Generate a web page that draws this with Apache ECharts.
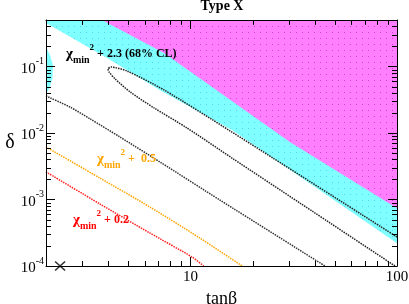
<!DOCTYPE html>
<html><head><meta charset="utf-8">
<script src="https://cdn.jsdelivr.net/npm/echarts@6/dist/echarts.min.js"></script>
<style>html,body{margin:0;padding:0;background:#fff}
#wrap{position:relative;width:409px;height:304px}
#c,#t{position:absolute;left:0;top:0;width:409px;height:304px}
#t{pointer-events:none}</style>
</head><body><div id="wrap"><div id="c"></div><div id="t"></div></div>
<script>
// ---------- data ----------
const titleText = 'Type X';
const xName = 'tanβ';
const yName = 'δ';
const xRange = [2, 100];
const yRange = [1e-4, 0.5];
const xMajorTicks = [10, 100];
const xMinorTicks = [3, 4, 5, 6, 7, 8, 9, 20, 30, 40, 50, 60, 70, 80, 90];
const yMajorTicks = [1e-4, 1e-3, 1e-2, 1e-1];
const yMinorTicks = [2e-4, 3e-4, 4e-4, 5e-4, 6e-4, 7e-4, 8e-4, 9e-4,
                     2e-3, 3e-3, 4e-3, 5e-3, 6e-3, 7e-3, 8e-3, 9e-3,
                     2e-2, 3e-2, 4e-2, 5e-2, 6e-2, 7e-2, 8e-2, 9e-2,
                     0.2, 0.3, 0.4];

// magenta excluded region (boundary + top-right corner)
const magentaTanb  = [3.73, 7.45, 30.3, 100, 100];
const magentaDelta = [0.5, 0.16, 7.3e-3, 7.4e-4, 0.5];
// cyan band (lower edge + top corners)
const cyanTanb  = [2, 3.95, 7.1, 15.9, 100, 100, 2];
const cyanDelta = [0.45, 0.134, 0.0444, 0.0111, 2.2e-4, 0.5, 0.5];
// small cyan patch on the left edge
const cyanLeftTanb  = [2, 2.09, 2.16, 2.15, 2.08, 2];
const cyanLeftDelta = [0.196, 0.149, 0.105, 0.0671, 0.0475, 0.0385];
// chi2_min + 2.3 (68% CL) contour
const cl68Tanb  = [100, 25.1, 15.6, 7.45, 4.93, 4.13, 3.99, 4.04, 4.32, 5.11, 6.67, 9.63, 15.9, 33.9, 97.8];
const cl68Delta = [2.73e-4, 4.2e-3, 0.0107, 0.0444, 0.0855, 0.098, 0.0916, 0.0826, 0.0649, 0.0414, 0.0238, 0.0119, 4.2e-3, 8.85e-4, 1e-4];
// outer black contour
const outerTanb  = [2, 2.61, 3.27, 4.56, 7.13, 13.9, 44.8];
const outerDelta = [0.036, 0.0246, 0.0163, 8.7e-3, 3.66e-3, 9.8e-4, 1e-4];
// chi2_min + 0.5
const orangeTanb  = [2, 3.65, 6.37, 11.1, 17.8];
const orangeDelta = [6.15e-3, 2.1e-3, 7.7e-4, 2.64e-4, 1e-4];
// chi2_min + 0.2
const redTanb  = [2, 3.65, 6.37, 10.2, 11.6];
const redDelta = [2.6e-3, 8.55e-4, 3.13e-4, 1.36e-4, 1e-4];
// best fit point
const bestFitTanb  = [2.34];
const bestFitDelta = [1e-4];

const labels = [
  {tag: '2.3 (68% CL)', color: '#000'},
  {tag: ' 0.5', color: '#FFA500'},
  {tag: '0.2', color: '#FF0000'}
];

// ---------- helpers ----------
const L = Math.log10;
const FONT = 'Liberation Serif';
const GRID = {left: 46, right: 12, top: 20, bottom: 38, containLabel: false, outerBoundsMode: 'none'};
function pts(xs, ys) { return xs.map((x, i) => [L(x), L(ys[i])]); }

function dotPattern(bg, dot) {
  const c = document.createElement('canvas');
  c.width = 6; c.height = 6;
  const g = c.getContext('2d');
  g.fillStyle = bg; g.fillRect(0, 0, 6, 6);
  g.fillStyle = dot; g.fillRect(2, 2, 1, 1);
  return {image: c, repeat: 'repeat'};
}

function polygonSeries(xs, ys, fill, z) {
  const d = pts(xs, ys);
  return {
    type: 'custom', z: z, silent: true, clip: true,
    data: d,
    renderItem: function (params, api) {
      if (params.dataIndex !== 0) return;
      const poly = d.map(p => api.coord(p));
      return {type: 'polygon', shape: {points: poly}, style: {fill: fill, stroke: null, lineWidth: 0}};
    }
  };
}
function lineSeries(xs, ys, color, z) {
  return {
    type: 'line', data: pts(xs, ys), symbol: 'none', showSymbol: false, smooth: 0.25,
    silent: true, z: z,
    lineStyle: {color: color, width: 1.5, type: [1.5, 1]}
  };
}
// inward tick marks: one thin filled rectangle per tick value, placed through the axes' scales
function tickSeries(values, dir, side, len) {
  const yl0 = L(yRange[0]), yl1 = L(yRange[1]);
  const xl0 = L(xRange[0]), xl1 = L(xRange[1]);
  const d = values.map(v => dir === 'x' ? [L(v), side === 'bottom' ? yl0 : yl1]
                                        : [side === 'left' ? xl0 : xl1, L(v)]);
  return {
    type: 'custom', z: 11, silent: true, clip: true,
    data: d,
    renderItem: function (params, api) {
      const p = api.coord(d[params.dataIndex]);
      let r;
      if (dir === 'x') {
        const x = Math.round(p[0]);
        r = side === 'bottom' ? {x: x, y: p[1] - len, width: 1, height: len}
                              : {x: x, y: p[1], width: 1, height: len};
      } else {
        const y = Math.round(p[1]);
        r = side === 'left' ? {x: p[0], y: y, width: len, height: 1}
                            : {x: p[0] - len, y: y, width: len, height: 1};
      }
      return {type: 'rect', shape: r, style: {fill: '#000'}};
    }
  };
}

function chiLabel(tag, color, x, y) {
  return {
    type: 'text', left: x, top: y, z: 20, silent: true,
    style: {
      text: '{c|χ}{m|min}{s|2}{t| + ' + tag + '}',
      fill: color,
      rich: {
        c: {fontFamily: FONT, fontSize: 15, fontWeight: 'bold', fill: color, lineHeight: 22, verticalAlign: 'middle'},
        m: {fontFamily: FONT, fontSize: 10, fontWeight: 'bold', fill: color, lineHeight: 10, verticalAlign: 'bottom'},
        s: {fontFamily: FONT, fontSize: 9, fontWeight: 'bold', fill: color, lineHeight: 10, verticalAlign: 'top'},
        t: {fontFamily: FONT, fontSize: 12, fontWeight: 'bold', fill: color, lineHeight: 22, verticalAlign: 'middle'}
      }
    }
  };
}

const baseAxis = {
  type: 'value', z: 10,
  axisLine: {show: true, lineStyle: {color: '#000', width: 1}},
  axisTick: {show: false},
  splitLine: {show: false}
};

// ---------- main chart ----------
const chart = echarts.init(document.getElementById('c'), null, {renderer: 'canvas'});
chart.setOption({
  animation: false,
  backgroundColor: '#fff',
  title: {
    text: titleText, left: 222, top: -1, textAlign: 'center', padding: 0,
    textStyle: {fontFamily: FONT, fontSize: 14, fontWeight: 'bold', color: '#000'}
  },
  grid: GRID,
  xAxis: [
    Object.assign({}, baseAxis, {
      position: 'bottom', min: L(xRange[0]), max: L(xRange[1]),
      axisLabel: {show: true, customValues: xMajorTicks.map(L), margin: 4,
        formatter: v => String(Math.round(Math.pow(10, v))), color: '#000', fontFamily: FONT, fontSize: 15},
      name: xName, nameLocation: 'middle', nameGap: 14,
      nameTextStyle: {fontFamily: FONT, fontSize: 18, color: '#000'}
    }),
    Object.assign({}, baseAxis, {position: 'top', min: L(xRange[0]), max: L(xRange[1]), axisLabel: {show: false}})
  ],
  yAxis: [
    Object.assign({}, baseAxis, {
      position: 'left', min: L(yRange[0]), max: L(yRange[1]),
      axisLabel: {show: true, customValues: yMajorTicks.map(L), margin: 2,
        formatter: v => '{b|10}{s|' + Math.round(v) + '}',
        rich: {
          b: {fontFamily: FONT, fontSize: 15, color: '#000', lineHeight: 20, verticalAlign: 'bottom'},
          s: {fontFamily: FONT, fontSize: 10, color: '#000', lineHeight: 11, verticalAlign: 'top'}
        }},
      name: yName, nameLocation: 'middle', nameGap: 31, nameRotate: 0,
      nameTextStyle: {fontFamily: FONT, fontSize: 20, color: '#000', padding: [6, 0, 0, 0]}
    }),
    Object.assign({}, baseAxis, {position: 'right', min: L(yRange[0]), max: L(yRange[1]), axisLabel: {show: false}})
  ],
  series: [
    polygonSeries(cyanTanb, cyanDelta, dotPattern('#7FFFFF', '#55D5EA'), 1),
    polygonSeries(cyanLeftTanb, cyanLeftDelta, '#7FFFFF', 1),
    polygonSeries(magentaTanb, magentaDelta, dotPattern('#FF7FFF', '#D040D0'), 2),
    lineSeries(cl68Tanb, cl68Delta, '#222', 5),
    lineSeries(outerTanb, outerDelta, '#333', 5),
    lineSeries(orangeTanb, orangeDelta, '#FFA500', 5),
    lineSeries(redTanb, redDelta, '#FF2020', 5),
    {
      type: 'scatter', data: pts(bestFitTanb, bestFitDelta), clip: false, z: 12, silent: true,
      symbol: 'path://M0 0L10 10M10 0L0 10', symbolSize: [10, 9],
      itemStyle: {color: 'none', borderColor: '#000', borderWidth: 1.5}
    }
  ],
  graphic: [
    chiLabel(labels[0].tag, labels[0].color, 66, 43),
    chiLabel(labels[1].tag, labels[1].color, 97, 148),
    chiLabel(labels[2].tag, labels[2].color, 73, 209)
  ]
});

// ---------- transparent overlay with the same grid: frame tick marks ----------
const tickChart = echarts.init(document.getElementById('t'), null, {renderer: 'canvas'});
const hiddenAxis = {type: 'value', axisLine: {show: false}, axisTick: {show: false}, axisLabel: {show: false}, splitLine: {show: false}};
tickChart.setOption({
  animation: false,
  backgroundColor: 'transparent',
  grid: GRID,
  xAxis: Object.assign({}, hiddenAxis, {min: L(xRange[0]), max: L(xRange[1])}),
  yAxis: Object.assign({}, hiddenAxis, {min: L(yRange[0]), max: L(yRange[1])}),
  series: [
    tickSeries(xMajorTicks, 'x', 'bottom', 9),
    tickSeries(xMinorTicks, 'x', 'bottom', 5),
    tickSeries(xMajorTicks, 'x', 'top', 9),
    tickSeries(xMinorTicks, 'x', 'top', 5),
    tickSeries(yMajorTicks, 'y', 'left', 9),
    tickSeries(yMinorTicks, 'y', 'left', 5),
    tickSeries(yMajorTicks, 'y', 'right', 9),
    tickSeries(yMinorTicks, 'y', 'right', 5)
  ]
});
</script>
</body></html>
